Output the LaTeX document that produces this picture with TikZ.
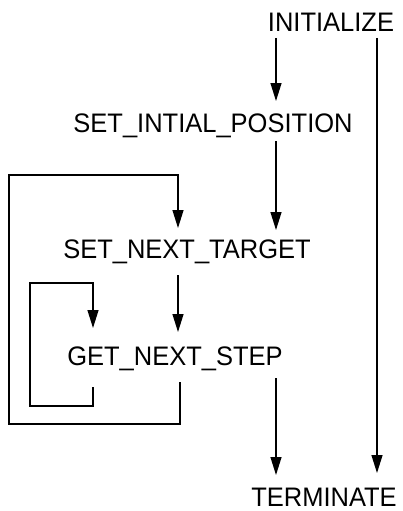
\documentclass[tikz,border=0pt]{standalone}
\usepackage{fontspec}
\setmainfont{Liberation Sans}
\usetikzlibrary{arrows.meta}
\begin{document}
\begin{tikzpicture}[x=1pt,y=-1pt,
  lbl/.style={anchor=base,inner sep=0pt,font=\fontsize{25.5pt}{28pt}\selectfont},
  arr/.style={line width=1.3pt,-{Triangle[length=18pt,width=11pt]}},
  ln/.style={line width=1.3pt}]
\useasboundingbox (0,0) rectangle (403,511);
\node[lbl] (init) at (331,32) {\scalebox{1}[1.05]{INITIALIZE}};
\node[lbl] (sip) at (213,132) {\scalebox{1}[1.05]{SET\_INTIAL\_POSITION}};
\node[lbl] (snt) at (187,258) {\scalebox{1}[1.05]{SET\_NEXT\_TARGET}};
\node[lbl] (gns) at (175,365) {\scalebox{1}[1.05]{GET\_NEXT\_STEP}};
\node[lbl] (term) at (324,506) {\scalebox{1}[1.05]{TERMINATE}};
\coordinate (xa) at (276,0);
\coordinate (xb) at (377,0);
\coordinate (xc) at (178,0);
\coordinate (xe) at (180,0);
\coordinate (xd) at (93,0);
\coordinate (b1) at (9,424);
\coordinate (b3) at (178,175);
\coordinate (s1) at (30,406);
\coordinate (s3) at (93,283);
% straight arrows
\draw[arr] ([yshift=-6pt]init.base -| xa) -- ([yshift=31pt]sip.base -| xa);
\draw[arr] ([yshift=-6pt]init.base -| xb) -- ([yshift=33pt]term.base -| xb);
\draw[arr] ([yshift=-9pt]sip.base -| xa) -- ([yshift=28pt]snt.base -| xa);
\draw[arr] ([yshift=-17pt]snt.base -| xc) -- ([yshift=33pt]gns.base -| xc);
\draw[arr] ([yshift=-13pt]gns.base -| xa) -- ([yshift=31pt]term.base -| xa);
% big loop
\draw[arr] ([yshift=-17pt]gns.base -| xe) |- (b1) |- (b3) -- ([yshift=30pt]snt.base -| xc);
% small loop
\draw[arr] ([yshift=-22pt]gns.base -| xd) |- (s1) |- (s3) -- ([yshift=37pt]gns.base -| xd);
\end{tikzpicture}
\end{document}
